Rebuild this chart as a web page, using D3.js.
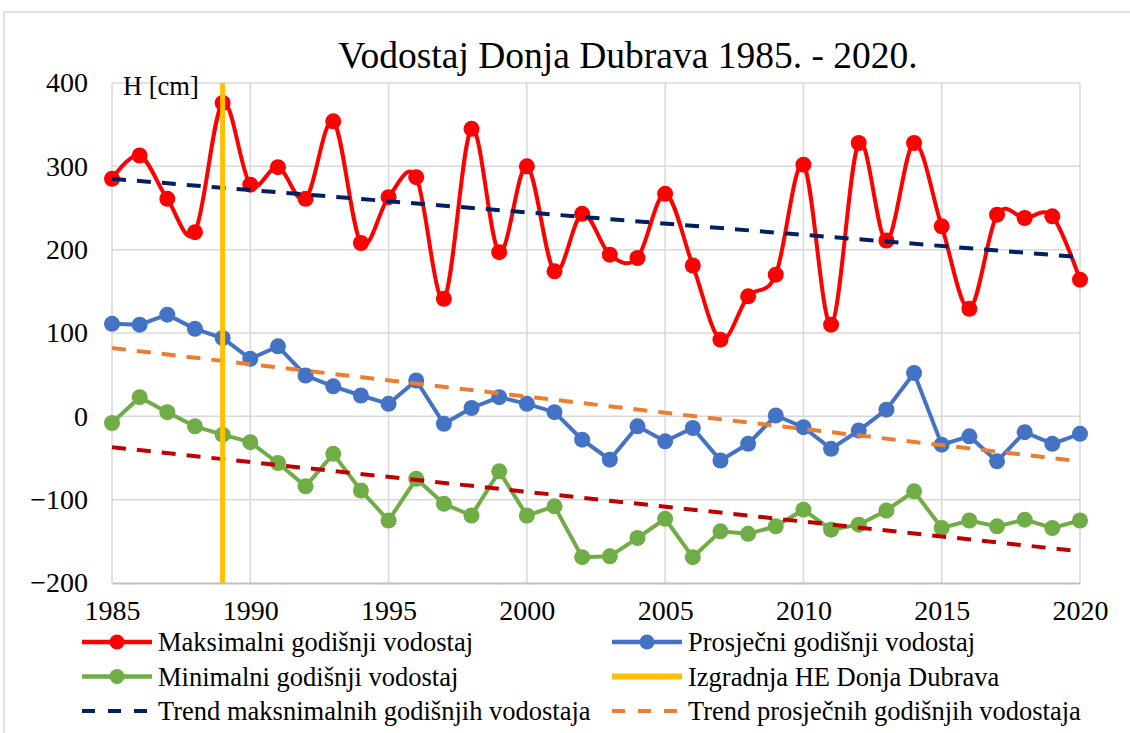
<!DOCTYPE html>
<html>
<head>
<meta charset="utf-8">
<script src="https://cdn.jsdelivr.net/npm/d3@7"></script>
<style>
  body { margin: 0; background: #fff; }
</style>
</head>
<body>
<svg id="chart" width="1130" height="733"></svg>
<script>
// data
let years = d3.range(1985, 2021)
let maxLevel = [285, 313, 261, 221, 376, 278, 299, 261, 354, 208, 263, 287, 141, 345, 197, 300, 174, 243, 194, 190,
    267, 181, 92, 144, 170, 302, 110, 328, 211, 328, 228, 129, 242, 238, 240, 164]
let avgLevel = [111, 110, 122, 105, 94, 69, 84, 49, 36, 25, 15, 43, -9, 10, 23, 15, 5, -28, -52, -12,
    -30, -14, -53, -33, 1, -13, -39, -17, 8, 52, -34, -24, -54, -19, -33, -21]
let minLevel = [-8, 23, 5, -12, -22, -31, -56, -84, -45, -89, -125, -75, -105, -119, -66, -119, -108, -169, -168, -146,
    -123, -169, -138, -141, -132, -112, -136, -130, -113, -90, -134, -125, -132, -124, -134, -125]
// trend lines, start and end values
let trendYears = [1985, 2020]
let maxTrend = [285, 191]
let avgTrend = [82, -54]
let minTrend = [-37, -162]
let damYear = 1989
let xTicks = [1985, 1990, 1995, 2000, 2005, 2010, 2015, 2020]
let yTicks = [-200, -100, 0, 100, 200, 300, 400]

let font = '"Liberation Serif", "Times New Roman", serif'
let svg = d3.select("#chart")

// outer chart frame
svg.append("rect")
    .attr("x", 4).attr("y", 12)
    .attr("width", 1140).attr("height", 740)
    .attr("fill", "none").attr("stroke", "#d9d9d9").attr("stroke-width", 1.5)

let pLeft = 112, pRight = 1080, pTop = 83, pBottom = 583

var x = d3.scaleLinear().domain([1985, 2020]).range([pLeft, pRight])
var y = d3.scaleLinear().domain([-200, 400]).range([pBottom, pTop])

svg.append("text")
    .attr("x", 628).attr("y", 68)
    .attr("text-anchor", "middle")
    .style("font-family", font)
    .style("font-size", "37.5px")
    .text("Vodostaj Donja Dubrava 1985. - 2020.")

// gridlines
svg.append("g")
    .selectAll("line").data(yTicks.filter(d => d > -200))
    .enter().append("line")
    .attr("x1", pLeft).attr("x2", pRight)
    .attr("y1", d => y(d)).attr("y2", d => y(d))
    .attr("stroke", "#d9d9d9").attr("stroke-width", 1.5)

svg.append("g")
    .selectAll("line").data(xTicks)
    .enter().append("line")
    .attr("x1", d => x(d)).attr("x2", d => x(d))
    .attr("y1", pTop).attr("y2", pBottom)
    .attr("stroke", "#d9d9d9").attr("stroke-width", 1.5)

// x axis
let xAxis = svg.append("g")
    .attr("transform", "translate(0," + pBottom + ")")
    .call(d3.axisBottom(x).tickValues(xTicks).tickFormat(d3.format("d")).tickSize(0).tickPadding(17))
xAxis.select(".domain").attr("stroke", "#bfbfbf").attr("stroke-width", 2)
xAxis.selectAll("text").style("font-family", font).style("font-size", "28px").attr("fill", "#000")

// y axis
let yAxis = svg.append("g")
    .attr("transform", "translate(" + pLeft + ",0)")
    .call(d3.axisLeft(y).tickValues(yTicks).tickSize(0).tickPadding(24))
yAxis.select(".domain").remove()
yAxis.selectAll("text").style("font-family", font).style("font-size", "28px").attr("fill", "#000")

svg.append("text")
    .attr("x", 123).attr("y", 95)
    .style("font-family", font)
    .style("font-size", "26.5px")
    .text("H [cm]")

// trend lines
let trendLine = d3.line().x((d, i) => x(trendYears[i])).y(d => y(d))
function addTrend(vals, color) {
    svg.append("path")
        .datum(vals)
        .attr("d", trendLine)
        .attr("fill", "none")
        .attr("stroke", color)
        .attr("stroke-width", 4)
        .attr("stroke-dasharray", "14,11")
}

// series
function addSeries(vals, color, curve) {
    let line = d3.line().x((d, i) => x(years[i])).y(d => y(d)).curve(curve)
    svg.append("path")
        .datum(vals)
        .attr("d", line)
        .attr("fill", "none")
        .attr("stroke", color)
        .attr("stroke-width", 4)
    svg.append("g")
        .selectAll("circle").data(vals)
        .enter().append("circle")
        .attr("cx", (d, i) => x(years[i]))
        .attr("cy", d => y(d))
        .attr("r", 8)
        .attr("fill", color)
}

addSeries(minLevel, "#70ad47", d3.curveLinear)
addSeries(avgLevel, "#4472c4", d3.curveLinear)
addSeries(maxLevel, "#ff0000", d3.curveCardinal.tension(0))

addTrend(minTrend, "#c00000")
addTrend(avgTrend, "#ed7d31")
addTrend(maxTrend, "#002060")

// construction year
svg.append("line")
    .attr("x1", x(damYear)).attr("x2", x(damYear))
    .attr("y1", pTop).attr("y2", pBottom)
    .attr("stroke", "#ffc000").attr("stroke-width", 5)

// legend
let legendItems = [
    { label: "Maksimalni godišnji vodostaj", color: "#ff0000", marker: true, dash: null },
    { label: "Prosječni godišnji vodostaj", color: "#4472c4", marker: true, dash: null },
    { label: "Minimalni godišnji vodostaj", color: "#70ad47", marker: true, dash: null },
    { label: "Izgradnja HE Donja Dubrava", color: "#ffc000", marker: false, dash: null },
    { label: "Trend maksnimalnih godišnjih vodostaja", color: "#002060", marker: false, dash: "13,13" },
    { label: "Trend prosječnih godišnjih vodostaja", color: "#ed7d31", marker: false, dash: "13,13" }
]

let leg = svg.append("g").selectAll("g").data(legendItems)
    .enter().append("g")
    .attr("transform", (d, i) => "translate(" + (i % 2 == 0 ? 82 : 612) + "," + (642 + Math.floor(i / 2) * 34.5) + ")")

leg.append("line")
    .attr("x1", 0).attr("x2", 70)
    .attr("stroke", d => d.color)
    .attr("stroke-width", d => d.dash ? 4 : (d.marker ? 4.5 : 6))
    .attr("stroke-dasharray", d => d.dash)
leg.filter(d => d.marker).append("circle")
    .attr("cx", 35).attr("r", 7.5)
    .attr("fill", d => d.color)
leg.append("text")
    .attr("x", 76).attr("dy", "0.34em")
    .style("font-family", font)
    .style("font-size", "26.5px")
    .text(d => d.label)
</script>
</body>
</html>
